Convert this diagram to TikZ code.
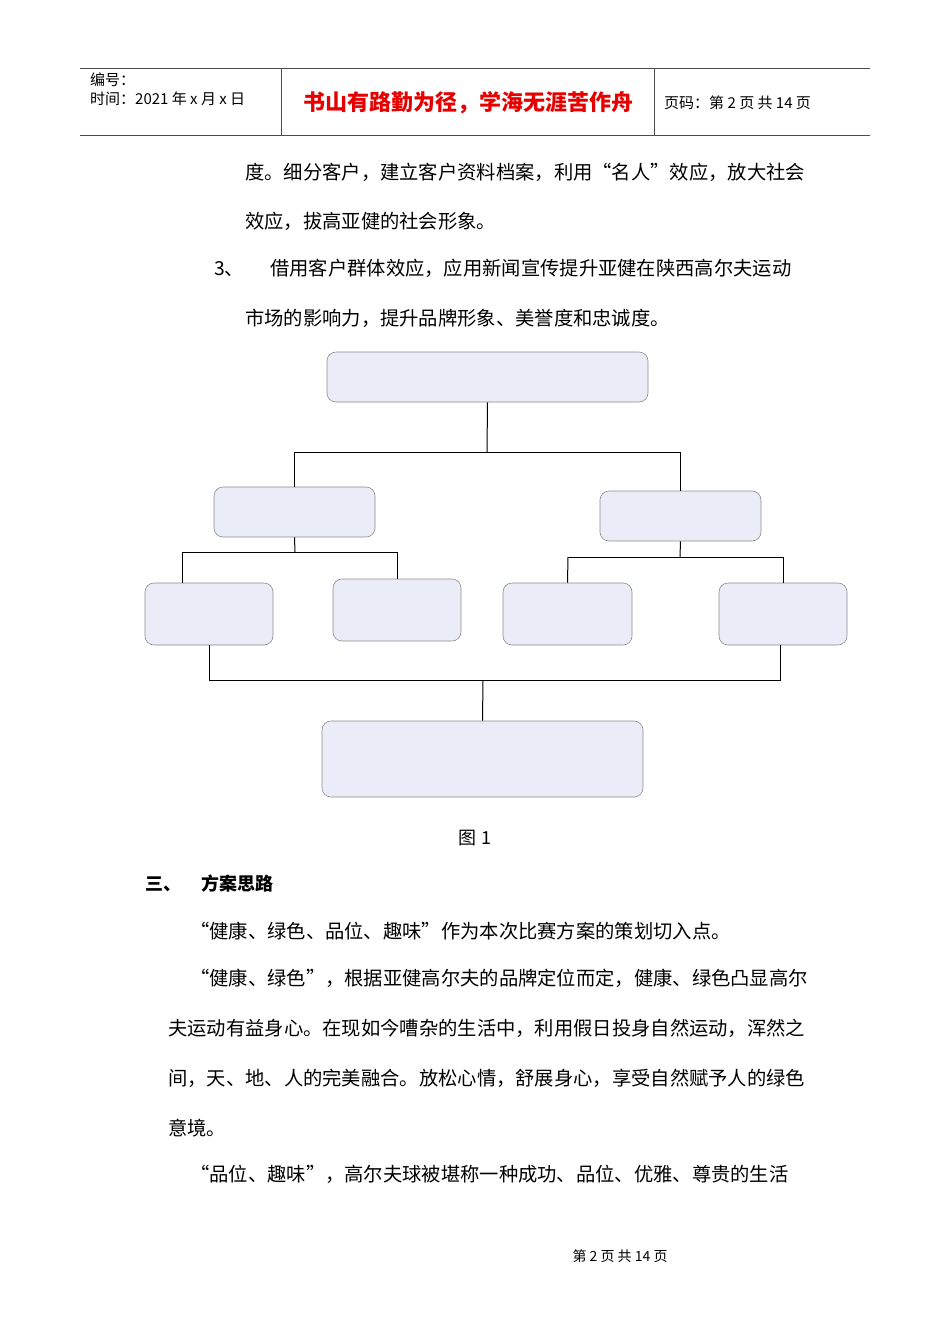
\documentclass[tikz,border=0pt]{standalone}
\usepackage{fontspec}
\setmainfont{Liberation Sans}
\newfontfamily\cjk{Noto Sans CJK SC}
\begin{document}
\begin{tikzpicture}[x=1pt,y=-1pt,
  bx/.style={draw=black!45,fill={rgb,255:red,234;green,237;blue,247},rounded corners=9pt,line width=0.6pt},
  ln/.style={line width=1pt},
  tx/.style={anchor=west,inner sep=0pt,font=\cjk\fontsize{19.3}{20}\selectfont},
  hd/.style={anchor=west,inner sep=0pt,font=\cjk\fontsize{15}{16}\selectfont}]
\useasboundingbox[fill=white] (0,0) rectangle (950,1344);
% header
\draw[black!70,line width=0.6pt] (80,68) -- (870,68) (80,135) -- (870,135) (281,68) -- (281,135) (654,68) -- (654,135);
\node[hd] (h1) at (90,80) {编号：};
\node[hd] (h2) at (90,99) {时间：2021 年 x 月 x 日};
\node[anchor=center,inner sep=0pt,font=\cjk\bfseries\fontsize{22}{22}\selectfont,text={rgb,255:red,230;green,0;blue,0}] (h3) at (468,103) {书山有路勤为径，学海无涯苦作舟};
\node[hd] (h4) at (664,103) {页码：第 2 页  共 14 页};
% text
\node[tx] (t1) at (245,172) {度。细分客户，建立客户资料档案，利用“名人”效应，放大社会};
\node[tx] (t2) at (245,221) {效应，拔高亚健的社会形象。};
\node[tx] (t3) at (214,268) {3、\hspace{26pt}借用客户群体效应，应用新闻宣传提升亚健在陕西高尔夫运动};
\node[tx] (t4) at (245,318) {市场的影响力，提升品牌形象、美誉度和忠诚度。};
% boxes
\node[bx,minimum width=321pt,minimum height=50pt] (A) at (487.5,377) {};
\node[bx,minimum width=161pt,minimum height=50pt] (B) at (294.5,512) {};
\node[bx,minimum width=161pt,minimum height=50pt] (C) at (680.5,516) {};
\node[bx,minimum width=128pt,minimum height=62pt] (D1) at (209,614) {};
\node[bx,minimum width=128pt,minimum height=62pt] (D2) at (397,610) {};
\node[bx,minimum width=129pt,minimum height=62pt] (D3) at (567.5,614) {};
\node[bx,minimum width=128pt,minimum height=62pt] (D4) at (783,614) {};
\node[bx,minimum width=321pt,minimum height=76pt] (E) at (482.5,759) {};
% connectors
\coordinate (j1) at (487,452);
\coordinate (j2) at (295,552);
\coordinate (j3) at (680,557);
\coordinate (j4) at (483,680);
\draw[ln] (A.south) -- (j1);
\draw[ln] (B.north |- j1) -- (C.north |- j1);
\draw[ln] (B.north |- j1) -- (B.north);
\draw[ln] (C.north |- j1) -- (C.north);
\draw[ln] (B.south) -- (j2);
\draw[ln] (182,552) -- (397,552);
\draw[ln] (182,552) -- (182,583);
\draw[ln] (397,552) -- (D2.north);
\draw[ln] (C.south) -- (j3);
\draw[ln] (568,557) -- (783,557);
\draw[ln] (568,557) -- (D3.north);
\draw[ln] (783,557) -- (D4.north);
\draw[ln] (D1.south) -- (209,680) -- (780,680) -- (780,645);
\draw[ln] (j4) -- (E.north);
\node[anchor=center,inner sep=0pt,font=\cjk\fontsize{18}{18}\selectfont] (cap) at (475,838) {图 1};
\node[tx,font=\cjk\bfseries\fontsize{18}{18}\selectfont] (s3) at (145,884) {三、\hspace{20pt}方案思路};
\node[tx] (p1) at (190,931) {“健康、绿色、品位、趣味”作为本次比赛方案的策划切入点。};
\node[tx] (p2) at (190,978) {“健康、绿色”，根据亚健高尔夫的品牌定位而定，健康、绿色凸显高尔};
\node[tx] (p3) at (168,1028) {夫运动有益身心。在现如今嘈杂的生活中，利用假日投身自然运动，浑然之};
\node[tx] (p4) at (168,1078) {间，天、地、人的完美融合。放松心情，舒展身心，享受自然赋予人的绿色};
\node[tx] (p5) at (168,1128) {意境。};
\node[tx] (p6) at (190,1174) {“品位、趣味”，高尔夫球被堪称一种成功、品位、优雅、尊贵的生活};
\node[anchor=center,inner sep=0pt,font=\cjk\fontsize{14}{14}\selectfont] (ft) at (620,1256) {第 2 页 共 14 页};
\end{tikzpicture}
\end{document}
